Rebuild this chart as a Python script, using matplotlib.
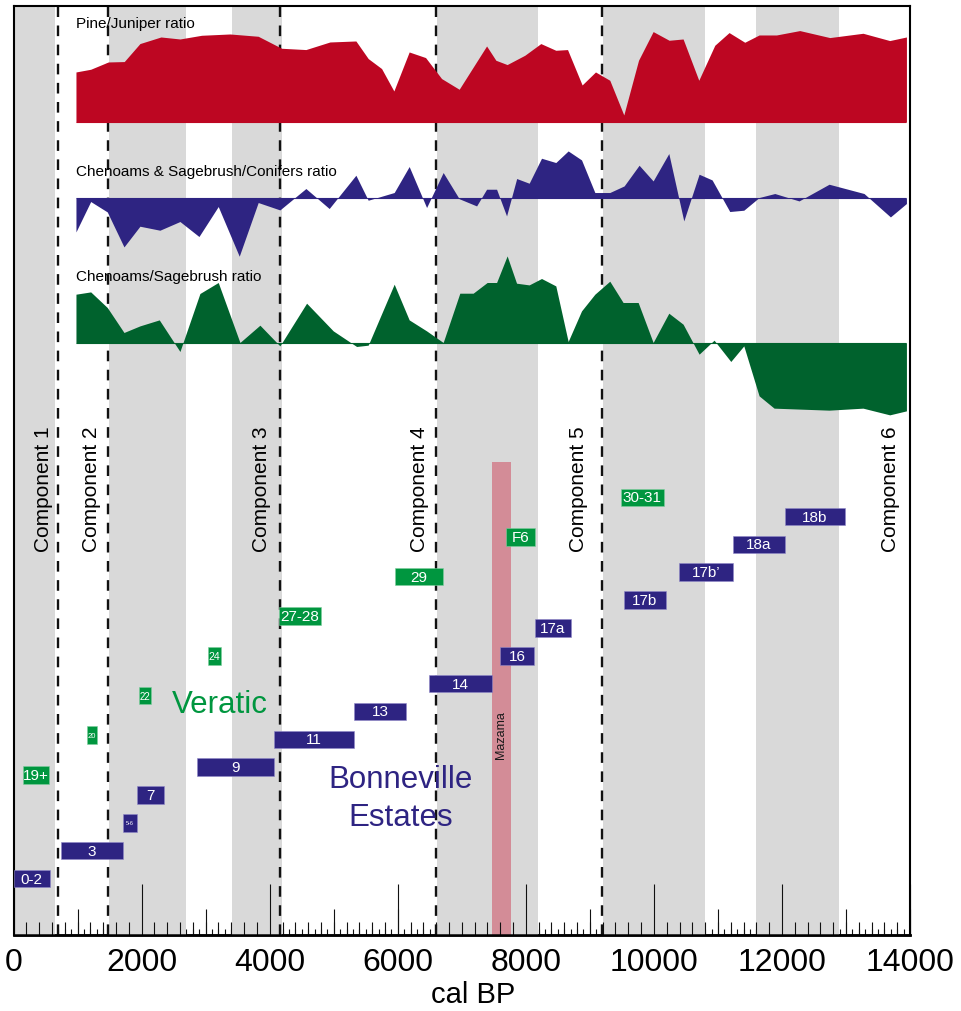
import numpy as np
import matplotlib
matplotlib.use("Agg")
from matplotlib import pyplot as plt
from matplotlib.ticker import MultipleLocator

plt.rcParams['font.family'] = ['Liberation Sans', 'DejaVu Sans']

# pollen ratio curves (cal BP, relative ratio value)
pine_age = [974, 1204, 1479, 1728, 1973, 2301, 2598, 2937, 3379, 3820, 4186, 4565, 4940,
            5346, 5538, 5747, 5939, 6178, 6434, 6684, 6959, 7387, 7532, 7708, 7984, 8234,
            8468, 8651, 8879, 9088, 9311, 9530, 9760, 9988, 10238, 10456, 10701, 10951,
            11174, 11419, 11643, 11914, 12278, 12747, 13266, 13683, 13944]
pine_juniper = [50.0, 52.7, 60.0, 60.4, 78.4, 85.0, 83.0, 86.7, 88.0, 85.7, 73.7, 72.4, 80.0,
                81.0, 63.4, 53.4, 31.0, 70.0, 64.4, 43.4, 32.7, 76.0, 61.7, 57.4, 66.7, 78.4,
                71.7, 72.4, 37.0, 50.0, 41.7, 7.0, 61.7, 90.4, 81.7, 83.0, 41.7, 76.7,
                89.4, 79.7, 87.0, 87.0, 91.4, 84.4, 88.7, 81.4, 85.0]

shrub_age = [974, 1204, 1463, 1724, 1973, 2285, 2598, 2895, 3196, 3524, 3820, 4159, 4565,
             4929, 5346, 5538, 5944, 6178, 6450, 6709, 6959, 7231, 7387, 7543, 7699, 7857,
             8052, 8245, 8468, 8661, 8870, 9078, 9311, 9535, 9769, 9988, 10233, 10467,
             10706, 10909, 11185, 11404, 11643, 11888, 12267, 12736, 13282, 13694, 13944]
shrub_conifer = [-34.0, -3.6, -14.0, -49.0, -28.3, -32.3, -23.6, -38.6, -8.6, -58.3, -4.6, -12.0, 9.4,
                 -10.6, 22.7, -2.3, 5.4, 31.4, -9.6, 25.4, -0.8, -8.0, 8.7, 8.7, -18.0, 19.4,
                 14.7, 39.7, 35.4, 47.0, 38.0, 5.4, 5.4, 12.0, 32.7, 17.0, 44.4, -23.0,
                 23.7, 18.0, -13.6, -12.3, 0.4, 4.4, -3.0, 13.7, 4.4, -19.0, -5.6]

cheno_age = [974, 1204, 1463, 1724, 1973, 2275, 2598, 2910, 3196, 3535, 3847, 4159, 4576,
             4992, 5357, 5538, 5944, 6178, 6450, 6709, 6969, 7177, 7396, 7543, 7708, 7855,
             8052, 8245, 8468, 8661, 8870, 9078, 9311, 9519, 9754, 9988, 10233, 10456,
             10706, 10940, 11201, 11404, 11643, 11877, 12736, 13266, 13683, 13944]
cheno_sage = [48.7, 51.0, 35.4, 10.4, 17.0, 23.0, -8.6, 49.4, 60.4, 0.4, 17.7, -3.0, 39.7,
              12.0, -3.6, -2.3, 58.7, 23.0, 12.0, 0.4, 49.7, 49.7, 60.4, 60.4, 87.0, 59.7,
              58.0, 64.4, 57.0, 1.4, 32.0, 48.7, 61.7, 40.4, 40.4, 0.4, 29.7, 18.7,
              -11.3, 2.7, -18.6, -3.0, -53.0, -65.3, -67.3, -65.3, -72.0, -68.0]

# site phases (cal BP ranges)
bonneville_labels = ['0-2', '3', '5-6', '7', '9', '11', '13', '14', '16', '17a', '17b',
                     '17b\u2019', '18a', '18b']
bonneville_start = [0, 740, 1708, 1931, 2859, 4066, 5315, 6490, 7600, 8137, 9536, 10393, 11232, 12053]
bonneville_end = [564, 1708, 1931, 2348, 4066, 5315, 6127, 7468, 8125, 8698, 10184, 11232, 12053, 12977]

veratic_labels = ['19+', '20', '22', '24', '27-28', '29', 'F6', '30-31']
veratic_start = [142, 1151, 1958, 3035, 4148, 5951, 7686, 9479]
veratic_end = [553, 1297, 2145, 3238, 4795, 6704, 8150, 10161]

mazama = (7468, 7761)

component_breaks = [688, 1474, 4159, 6595, 9187]
band_start = [0, 1490, 3410, 6610, 9202, 11591]
band_end = [646, 2692, 4190, 8187, 10795, 12887]
component_names = ['Component 1', 'Component 2', 'Component 3', 'Component 4',
                   'Component 5', 'Component 6']
component_x = [467, 1216, 3871, 6342, 8828, 13699]

red = '#BD0622'
indigo = '#2E2482'
dkgreen = '#00622D'
ltgreen = '#00963F'

fig = plt.figure(figsize=(9.61, 10.12), dpi=100)
ax = fig.add_axes([0.01415, 0.0751, 0.9328, 0.9177])
ax.set_xlim(0, 14000)
ax.set_ylim(0, 929)

for s, e in zip(band_start, band_end):
    ax.axvspan(s, e, color='#D9D9D9', lw=0, zorder=0.5)

for b in component_breaks:
    ax.axvline(b, color='#111111', lw=1.7, ls=(0, (4.5, 3.6)), zorder=1.4)

# ratio curves, each on its own baseline
curves = [(pine_age, pine_juniper, 813.3, red, 'Pine/Juniper ratio', 908.3),
          (shrub_age, shrub_conifer, 737.3, indigo, 'Chenoams & Sagebrush/Conifers ratio', 760),
          (cheno_age, cheno_sage, 592.3, dkgreen, 'Chenoams/Sagebrush ratio', 655)]
for age, val, base, col, name, ty in curves:
    age = np.array(age)
    val = np.array(val)
    ax.fill_between(age, base, base + val, color=col, lw=0, zorder=2)
    ax.hlines(base, age.min(), age.max(), color=col, lw=0.8, zorder=2)
    ax.text(age.min(), ty, name, fontsize=11, ha='left', va='baseline', zorder=4)

# Mazama tephra
ax.bar(mazama[0], 473.3, width=mazama[1] - mazama[0], align='edge',
       color='#D38C97', lw=0, zorder=1.2)
ax.text(sum(mazama) / 2, 201, 'Mazama', rotation=90, fontsize=9,
        ha='center', va='center', color='#1a1a1a', zorder=4)

small = {'5-6': 4, '20': 5.5, '22': 7, '24': 7.5}

rows_b = 56.5 + 27.85 * np.arange(len(bonneville_labels))
ax.barh(rows_b, np.array(bonneville_end) - np.array(bonneville_start), left=bonneville_start,
        height=17.6, color=indigo, edgecolor='#8f88c8', lw=0.4, zorder=3)
for lab, s, e, y in zip(bonneville_labels, bonneville_start, bonneville_end, rows_b):
    ax.text((s + e) / 2, y, lab, color='white', fontsize=small.get(lab, 11),
            ha='center', va='center', zorder=4)

rows_v = 160.3 + 39.63 * np.arange(len(veratic_labels))
ax.barh(rows_v, np.array(veratic_end) - np.array(veratic_start), left=veratic_start,
        height=17.6, color=ltgreen, edgecolor='#7fcf9f', lw=0.4, zorder=3)
for lab, s, e, y in zip(veratic_labels, veratic_start, veratic_end, rows_v):
    ax.text((s + e) / 2, y, lab, color='white', fontsize=small.get(lab, 11),
            ha='center', va='center', zorder=4)

ax.text(3222, 222.7, 'Veratic', color=ltgreen, fontsize=22.5, ha='center', va='baseline', zorder=4)
ax.text(6042, 148.3, 'Bonneville', color=indigo, fontsize=22.5, ha='center', va='baseline', zorder=4)
ax.text(6042, 110, 'Estates', color=indigo, fontsize=22.5, ha='center', va='baseline', zorder=4)

for name, x in zip(component_names, component_x):
    ax.text(x, 384, name, rotation=90, fontsize=15, ha='center', va='bottom', zorder=4)

# axis: inward ticks of four lengths
ax.set_yticks([])
ax.xaxis.set_major_locator(MultipleLocator(2000))
ax.xaxis.set_minor_locator(MultipleLocator(200))
ax.tick_params(axis='x', which='major', direction='in', length=36.7, width=0.8,
               color='#111111', labelsize=23, pad=8.5)
ax.tick_params(axis='x', which='minor', direction='in', length=9.1, width=0.8, color='#111111')
sec = ax.secondary_xaxis('bottom')
sec.xaxis.set_major_locator(MultipleLocator(1000))
sec.xaxis.set_minor_locator(MultipleLocator(100))
sec.tick_params(axis='x', which='major', direction='in', length=18.7, width=0.8,
                color='#111111', labelbottom=False)
sec.tick_params(axis='x', which='minor', direction='in', length=4.3, width=0.8, color='#111111')
sec.spines['bottom'].set_linewidth(1.8)

for sp in ['left', 'right', 'top']:
    ax.spines[sp].set_linewidth(1.5)
ax.spines['bottom'].set_linewidth(1.8)

ax.set_xlabel('cal BP', fontsize=21)
ax.xaxis.set_label_coords(0.513, -0.0725)
ax.xaxis.label.set_verticalalignment('baseline')

fig.savefig('out.png', dpi=100)
